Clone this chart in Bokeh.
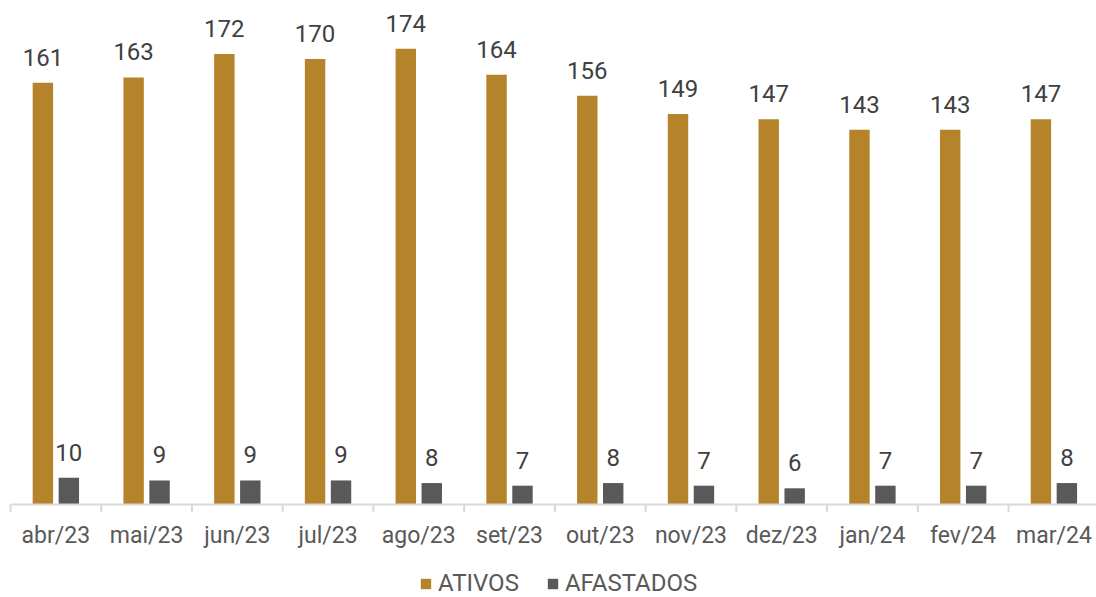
from bokeh.plotting import figure
from bokeh.models import ColumnDataSource, Range1d, Legend, LegendItem, LabelSet
from bokeh.embed import file_html
from bokeh.resources import INLINE
from bokeh.core.properties import value

months = ["abr/23", "mai/23", "jun/23", "jul/23", "ago/23", "set/23",
          "out/23", "nov/23", "dez/23", "jan/24", "fev/24", "mar/24"]
ativos = [161, 163, 172, 170, 174, 164, 156, 149, 147, 143, 143, 147]
afastados = [10, 9, 9, 9, 8, 7, 8, 7, 6, 7, 7, 8]

GOLD = "#B4832A"
GRAY = "#595959"
AXIS = "#D9D9D9"
FONT = "Roboto"

W, H = 1096, 597
CAT_PX = 90.73          # pixels per category
UNIT_PX = 2.617         # pixels per value unit
LEFT_PX = 10            # left edge of the category axis
BASE_PX = 503.5         # baseline (value 0) from top

x0 = -0.5 - LEFT_PX / CAT_PX
y1 = BASE_PX / UNIT_PX
y0 = -(H - BASE_PX) / UNIT_PX

idx = list(range(len(months)))
src_a = ColumnDataSource(dict(x=[i - 0.143 for i in idx], y=ativos, t=[str(v) for v in ativos]))
src_b = ColumnDataSource(dict(x=[i + 0.143 for i in idx], y=afastados, t=[str(v) for v in afastados]))
src_m = ColumnDataSource(dict(x=idx, y=[0] * len(idx), t=months))

p = figure(width=W, height=H, output_backend="svg", toolbar_location=None,
           x_range=Range1d(x0, x0 + W / CAT_PX), y_range=Range1d(y0, y1),
           min_border_left=0, min_border_right=0, min_border_top=0, min_border_bottom=0)
p.axis.visible = False
p.grid.visible = False
p.outline_line_color = None

r_a = p.vbar(x="x", top="y", width=0.225, source=src_a, fill_color=GOLD, line_color=None)
r_b = p.vbar(x="x", top="y", width=0.225, source=src_b, fill_color=GRAY, line_color=None)

# category axis: line, boundary ticks and labels
bounds = [i - 0.5 for i in range(len(months) + 1)]
ax_y = -0.6 / UNIT_PX
p.segment(x0=[bounds[0]], y0=[ax_y], x1=[x0 + W / CAT_PX], y1=[ax_y], line_color=AXIS, line_width=2)
p.segment(x0=bounds, y0=[ax_y] * len(bounds), x1=bounds, y1=[-8 / UNIT_PX] * len(bounds),
          line_color=AXIS, line_width=2)
p.add_layout(LabelSet(x="x", y="y", text="t", source=src_m, text_align="center",
                      text_baseline="middle", y_offset=-31,
                      text_font=value(FONT), text_font_size="23px", text_color="#595959"))

for src in (src_a, src_b):
    p.add_layout(LabelSet(x="x", y="y", text="t", source=src, text_align="center",
                          text_baseline="alphabetic", y_offset=17,
                          text_font=value(FONT), text_font_size="24px", text_color="#404040"))

legend = Legend(items=[LegendItem(label="ATIVOS", renderers=[r_a]),
                       LegendItem(label="AFASTADOS", renderers=[r_b])],
                orientation="horizontal", location=(419, 0),
                glyph_width=13, glyph_height=13, label_standoff=6, spacing=27,
                label_height=18,
                label_text_font=FONT, label_text_font_size="24px", label_text_color="#595959",
                border_line_color=None, background_fill_alpha=0, padding=0, margin=0)
p.add_layout(legend, "center")

open("out.html", "w").write(file_html(p, INLINE))
